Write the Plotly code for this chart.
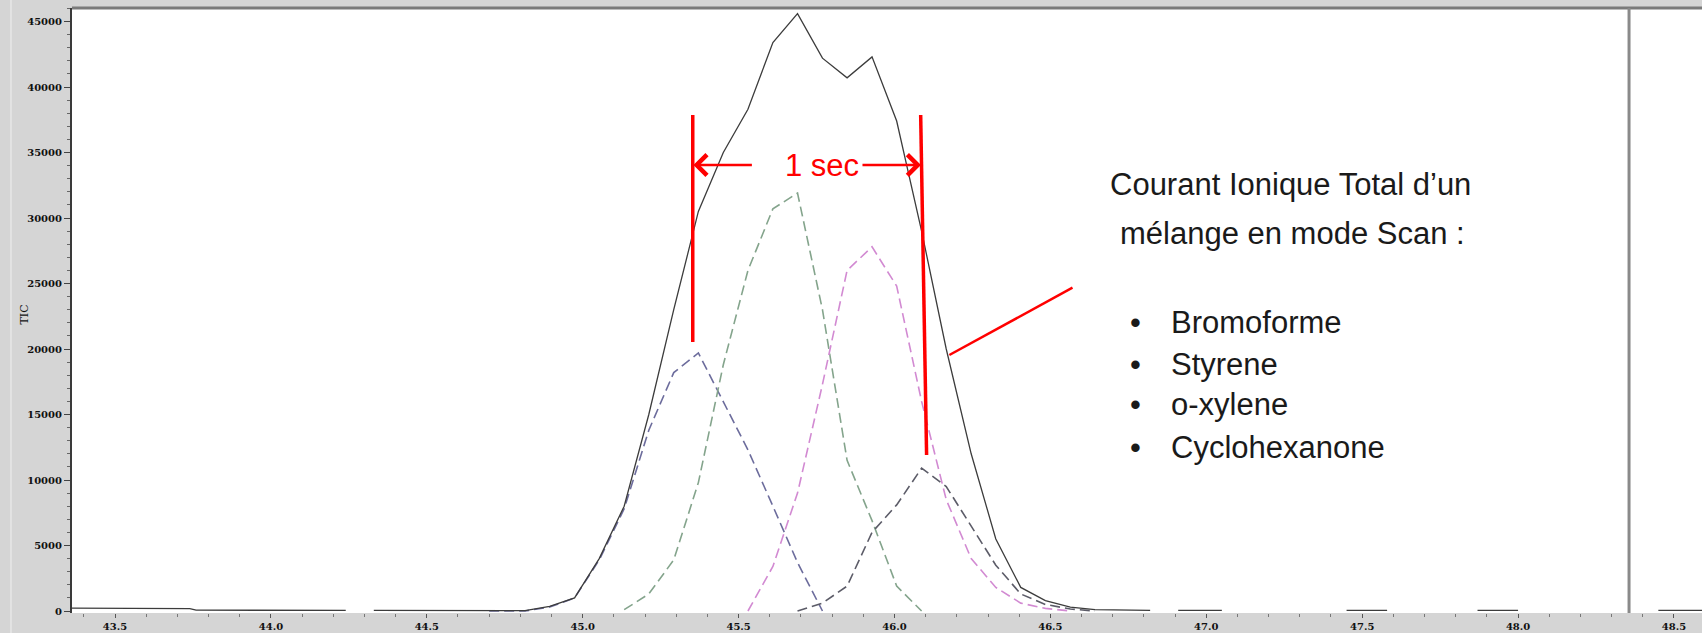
import plotly.graph_objects as go

# ---------------- data ----------------
scan_time = [44.815, 44.894, 44.974, 45.053, 45.133, 45.212, 45.292, 45.371,
             45.451, 45.530, 45.610, 45.689, 45.769, 45.848, 45.928, 46.007,
             46.087, 46.166, 46.246, 46.325, 46.405, 46.484, 46.564, 46.643]
tic_peak = [30, 350, 1000, 4000, 8000, 15000, 23000, 30500,
            35000, 38300, 43400, 45600, 42200, 40700, 42300, 37400,
            29000, 20000, 12000, 5500, 1800, 800, 300, 100]

tic_time_before = [43.362, 43.60, 43.74, 43.76, 44.24, None, 44.33]
tic_before = [220, 200, 180, 60, 50, None, 40]
tic_time_after = [46.75, 46.82, None, 46.91, 47.05, None, 47.45, 47.58,
                  None, 47.87, 48.00, None, 48.45, 48.59]
tic_after = [60, 50, None, 40, 40, None, 40, 40, None, 40, 40, None, 40, 40]

bromo_time = [44.70, 44.815, 44.894, 44.974, 45.053, 45.133, 45.212, 45.292,
              45.371, 45.451, 45.530, 45.610, 45.689, 45.769]
bromo = [0, 0, 300, 1000, 3900, 7800, 13800, 18200,
         19700, 16000, 12300, 8000, 3700, 0]

styrene_time = [45.133, 45.212, 45.292, 45.371, 45.451, 45.530, 45.610,
                45.689, 45.769, 45.848, 45.928, 46.007, 46.087]
styrene = [100, 1300, 3900, 9800, 18800, 26000, 30700,
           31900, 23000, 11500, 6900, 1900, 0]

xylene_time = [45.530, 45.610, 45.689, 45.769, 45.848, 45.928, 46.007,
               46.087, 46.166, 46.246, 46.325, 46.405, 46.484, 46.564]
xylene = [0, 3400, 9000, 17300, 26000, 27800, 24800,
          16000, 8500, 4000, 1800, 600, 200, 0]

cyclo_time = [45.689, 45.769, 45.848, 45.928, 46.007, 46.087, 46.166,
              46.246, 46.325, 46.405, 46.484, 46.564, 46.643]
cyclo = [0, 600, 1900, 6000, 8100, 10900, 9500,
         6500, 3500, 1300, 500, 150, 0]

x_tick_values = [43.5, 44.0, 44.5, 45.0, 45.5, 46.0, 46.5, 47.0, 47.5, 48.0, 48.5]
x_tick_labels = ["43.5", "44.0", "44.5", "45.0", "45.5", "46.0", "46.5",
                 "47.0", "47.5", "48.0", "48.5"]
y_tick_values = [0, 5000, 10000, 15000, 20000, 25000, 30000, 35000, 40000, 45000]
y_tick_labels = [str(v) for v in y_tick_values]

compound_names = ["Bromoforme", "Styrene", "o-xylene", "Cyclohexanone"]
title_lines = ["Courant Ionique Total d\u2019un", "m\u00e9lange en mode Scan :"]

# ---------------- figure ----------------
W, H = 1702, 633
L, R, T, B = 72, 0, 8, 20
PW, PH = W - L - R, H - T - B


def px(x):
    return (x - L) / PW


def py(y):
    return (T + PH - y) / PH


fig = go.Figure()

dash = "10px,5px"
fig.add_trace(go.Scatter(x=bromo_time, y=bromo, mode="lines", name=compound_names[0],
                         line=dict(color="#6c6c9c", width=1.6, dash=dash)))
fig.add_trace(go.Scatter(x=styrene_time, y=styrene, mode="lines", name=compound_names[1],
                         line=dict(color="#84a48c", width=1.6, dash=dash)))
fig.add_trace(go.Scatter(x=xylene_time, y=xylene, mode="lines", name=compound_names[2],
                         line=dict(color="#d28ad2", width=1.6, dash=dash)))
fig.add_trace(go.Scatter(x=cyclo_time, y=cyclo, mode="lines", name=compound_names[3],
                         line=dict(color="#5c5c68", width=1.6, dash=dash)))
fig.add_trace(go.Scatter(x=tic_time_before + scan_time + tic_time_after,
                         y=tic_before + tic_peak + tic_after,
                         mode="lines", name="TIC", connectgaps=False,
                         line=dict(color="#3c3c3c", width=1.3)))

tickfont = dict(family="DejaVu Serif", size=10, color="#111111", weight="bold")

fig.update_layout(
    width=W, height=H,
    margin=dict(l=L, r=R, t=T, b=B, pad=0),
    paper_bgcolor="#d5d5d5",
    plot_bgcolor="#ffffff",
    showlegend=False,
)
fig.update_xaxes(
    range=[43.362, 48.590],
    tickvals=x_tick_values, ticktext=x_tick_labels,
    ticks="outside", ticklen=4, tickwidth=1, tickcolor="#555555",
    minor=dict(dtick=0.1, tick0=43.5, ticks="outside", ticklen=3, tickcolor="#777777"),
    showgrid=False, zeroline=False, showline=False,
    tickfont=tickfont,
)
fig.update_yaxes(
    range=[-153, 46031],
    tickvals=y_tick_values, ticktext=y_tick_labels,
    ticks="outside", ticklen=6, tickwidth=1, tickcolor="#444444",
    minor=dict(dtick=1000, ticks="outside", ticklen=3, tickcolor="#666666"),
    showgrid=False, zeroline=False,
    showline=True, linecolor="#3a3a3a", linewidth=2,
    tickfont=tickfont,
)

# frame details
fig.add_shape(type="line", xref="paper", yref="paper", x0=0, x1=1, y0=1, y1=1,
              line=dict(color="#7a7a7a", width=3))
fig.add_shape(type="line", xref="x", yref="paper", x0=48.356, x1=48.356, y0=0, y1=1,
              line=dict(color="#8a8a8a", width=3))
fig.add_shape(type="line", xref="paper", yref="paper", x0=px(11), x1=px(11),
              y0=py(633), y1=py(0), line=dict(color="#f0f0f0", width=1))

# y title
fig.add_annotation(text="TIC", xref="paper", yref="paper", x=px(15), y=py(315),
                   showarrow=False, textangle=-90,
                   font=dict(family="DejaVu Serif", size=11, color="#111111"))

# red annotations
RED = "#ff0000"
fig.add_shape(type="line", xref="x", yref="y", x0=45.353, x1=45.353, y0=37863, y1=20534,
              line=dict(color=RED, width=3.5))
fig.add_shape(type="line", xref="x", yref="y", x0=46.084, x1=46.103, y0=37863, y1=11908,
              line=dict(color=RED, width=3.5))
fig.add_annotation(x=45.355, y=34046, ax=60, ay=0, axref="pixel", ayref="pixel",
                   showarrow=True, arrowhead=4, arrowsize=1.6, arrowwidth=2.5,
                   arrowcolor=RED, text="")
fig.add_annotation(x=46.085, y=34046, ax=-60, ay=0, axref="pixel", ayref="pixel",
                   showarrow=True, arrowhead=4, arrowsize=1.6, arrowwidth=2.5,
                   arrowcolor=RED, text="")
fig.add_annotation(x=45.766, y=34046, text="1 sec", showarrow=False,
                   font=dict(family="Liberation Sans", size=31, color=RED))
fig.add_shape(type="line", xref="x", yref="y", x0=46.571, y0=24679, x1=46.176, y1=19542,
              line=dict(color=RED, width=2.5))

# right-hand text
TXT = dict(family="Liberation Sans", size=31, color="#1a1a1a")
fig.add_annotation(text=title_lines[0], xref="paper", yref="paper", x=px(1290), y=py(184),
                   showarrow=False, font=TXT, xanchor="center", yanchor="middle")
fig.add_annotation(text=title_lines[1], xref="paper", yref="paper", x=px(1292), y=py(233),
                   showarrow=False, font=TXT, xanchor="center", yanchor="middle")
for name, yy in zip(compound_names, [322, 364, 405, 447]):
    fig.add_annotation(text="\u2022", xref="paper", yref="paper", x=px(1135), y=py(yy),
                       showarrow=False, font=TXT, xanchor="center", yanchor="middle")
    fig.add_annotation(text=name, xref="paper", yref="paper", x=px(1169), y=py(yy),
                       showarrow=False, font=TXT, xanchor="left", yanchor="middle")

fig.write_html("out.html", config={"displayModeBar": False},
               post_script="document.body.style.margin='0';")
